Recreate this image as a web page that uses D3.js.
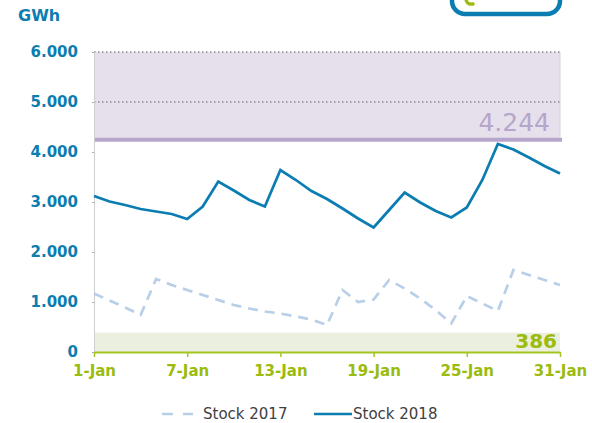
<!DOCTYPE html>
<html><head><meta charset="utf-8">
<script src="https://cdn.jsdelivr.net/npm/d3@7"></script>
<style>body{margin:0;background:#fff}svg{display:block;font-family:"DejaVu Sans",Verdana,sans-serif}</style>
</head><body>
<script>
const days = d3.range(1, 32);
const stock2017 = [1170,1030,890,740,1460,1340,1240,1140,1040,940,870,810,770,710,650,540,1240,1000,1050,1440,1270,1070,840,570,1120,970,820,1640,1540,1440,1340];
const stock2018 = [3120,3010,2940,2860,2810,2760,2660,2910,3410,3230,3040,2910,3640,3440,3220,3060,2870,2670,2490,2840,3190,2990,2820,2690,2890,3440,4160,4050,3890,3720,3570];
const yTicks = [0,1000,2000,3000,4000,5000,6000];
const xTickDays = [1,7,13,19,25,31];
const xTickLabels = ["1-Jan","7-Jan","13-Jan","19-Jan","25-Jan","31-Jan"];
const upperLevel = 4244, upperMax = 6000, lowerLevel = 386;
const seriesNames = ["Stock 2017","Stock 2018"];

const W = 592, H = 423;
const svg = d3.select("body").append("svg").attr("width", W).attr("height", H);
const x = d3.scaleLinear().domain([1,31]).range([94,560]);
const y = d3.scaleLinear().domain([0,6000]).range([352,52]);
const fmt = v => v === 0 ? "0" : d3.format(",")(v).replace(/,/g, ".");

// logo (partial, top right)
svg.append("rect").attr("x",452).attr("y",-30).attr("width",108).attr("height",44).attr("rx",13)
  .attr("fill","none").attr("stroke","#0b7db1").attr("stroke-width",4.5);
svg.append("path").attr("d","M466,-2 Q466,5 473,4").attr("fill","none").attr("stroke","#9bbb0e").attr("stroke-width",3.5).attr("stroke-linecap","round");

// bands
svg.append("rect").attr("x",x(1)).attr("y",y(upperMax)).attr("width",x(31)-x(1)).attr("height",y(upperLevel)-y(upperMax)).attr("fill","#e6e0ed");
svg.append("line").attr("x1",x(31)).attr("x2",x(31)).attr("y1",y(upperMax)).attr("y2",y(upperLevel)).attr("stroke","#d8d2e0").attr("stroke-width",1);
svg.append("rect").attr("x",x(1)).attr("y",y(lowerLevel)).attr("width",x(31)-x(1)).attr("height",y(0)-y(lowerLevel)).attr("fill","#ebefdf");

// dotted gridlines
[5000,6000].forEach(v => {
  svg.append("line").attr("x1",x(1)).attr("x2",x(31)).attr("y1",y(v)).attr("y2",y(v))
    .attr("stroke","#8a8a8a").attr("stroke-width",1.3).attr("stroke-dasharray","1.5,2.5");
});
svg.append("line").attr("x1",x(1)).attr("x2",x(31)+2).attr("y1",y(upperLevel)).attr("y2",y(upperLevel))
  .attr("stroke","#b6a6cb").attr("stroke-width",4);
svg.append("text").attr("x",550).attr("y",y(upperLevel)-9).attr("text-anchor","end")
  .attr("font-size",25).attr("fill","#b6a6cb").text(fmt(upperLevel));
svg.append("text").attr("x",557).attr("y",y(0)-4).attr("text-anchor","end")
  .attr("font-size",20).attr("font-weight","bold").attr("fill","#9bbb0e").text(lowerLevel);

// y axis
const ya = svg.append("g").attr("transform",`translate(${x(1)},0)`)
  .call(d3.axisLeft(y).tickValues(yTicks).tickFormat(fmt).tickSize(2).tickPadding(14));
ya.select(".domain").attr("stroke","#cfcfcf");
ya.selectAll(".tick line").attr("stroke","#b0b0b0");
ya.selectAll("text").attr("font-size",15).attr("font-weight","bold").attr("fill","#0b7db1").attr("font-family","DejaVu Sans");
svg.append("text").attr("x",18).attr("y",21).attr("font-size",16).attr("font-weight","bold").attr("fill","#0b7db1").text("GWh");

// x axis
const xa = svg.append("g").attr("transform",`translate(0,${y(0)})`)
  .call(d3.axisBottom(x).tickValues(xTickDays).tickFormat((d,i)=>xTickLabels[i]).tickSize(5).tickPadding(8).tickSizeOuter(0));
xa.select(".domain").attr("stroke","#a4c520").attr("stroke-width",2);
xa.selectAll(".tick line").attr("stroke","#a4c520").attr("stroke-width",1.5);
xa.selectAll("text").attr("font-size",15).attr("font-weight","bold").attr("fill","#9bbb0e").attr("font-family","DejaVu Sans");

// lines
const line = d3.line().x((d,i)=>x(days[i])).y(d=>y(d));
svg.append("path").datum(stock2017).attr("d",line).attr("fill","none").attr("stroke","#b8cfe8").attr("stroke-width",2.7).attr("stroke-dasharray","10,7");
svg.append("path").datum(stock2018).attr("d",line).attr("fill","none").attr("stroke","#0b7db1").attr("stroke-width",2.7);

// legend
const lg = svg.append("g");
lg.append("line").attr("x1",162).attr("x2",193).attr("y1",414).attr("y2",414).attr("stroke","#b8cfe8").attr("stroke-width",2.7).attr("stroke-dasharray","11,10");
lg.append("text").attr("x",203).attr("y",419).attr("font-size",15).attr("fill","#404040").text(seriesNames[0]);
lg.append("line").attr("x1",314).attr("x2",352).attr("y1",414).attr("y2",414).attr("stroke","#0b7db1").attr("stroke-width",2.7);
lg.append("text").attr("x",353).attr("y",419).attr("font-size",15).attr("fill","#404040").text(seriesNames[1]);
</script>
</body></html>
